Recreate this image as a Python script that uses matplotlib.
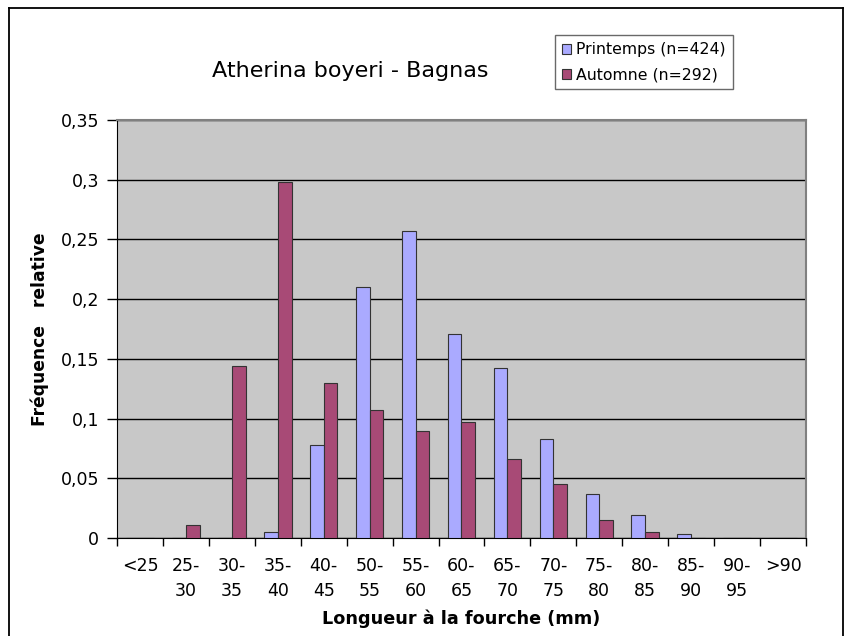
import numpy as np
import matplotlib
matplotlib.use('Agg')
import matplotlib.pyplot as plt
from matplotlib.lines import Line2D

classes = ['<25', '25-\n30', '30-\n35', '35-\n40', '40-\n45', '50-\n55', '55-\n60',
           '60-\n65', '65-\n70', '70-\n75', '75-\n80', '80-\n85', '85-\n90', '90-\n95', '>90']
printemps = [0, 0, 0, 0.005, 0.078, 0.210, 0.257, 0.171, 0.142, 0.083, 0.037, 0.019, 0.003, 0, 0]
automne = [0, 0.011, 0.144, 0.298, 0.130, 0.107, 0.090, 0.097, 0.066, 0.045, 0.015, 0.005, 0, 0, 0]
yticks = [0, 0.05, 0.1, 0.15, 0.2, 0.25, 0.3, 0.35]
ylabels = ['0', '0,05', '0,1', '0,15', '0,2', '0,25', '0,3', '0,35']

plt.rcParams['font.family'] = 'DejaVu Sans'

fig = plt.figure(figsize=(8.46, 6.36), dpi=100)
ax = fig.add_axes([0.1383, 0.1541, 0.8144, 0.6572])
ax.set_facecolor('#c8c8c8')

x = np.arange(len(classes))
w = 0.3
ax.bar(x - w/2, printemps, w, color='#aaaaff', edgecolor='#333333', linewidth=0.8,
       label='Printemps (n=424)', zorder=3)
ax.bar(x + w/2, automne, w, color='#a84a76', edgecolor='#333333', linewidth=0.8,
       label='Automne (n=292)', zorder=3)

ax.set_xlim(-0.5, len(classes) - 0.5)
ax.set_ylim(0, 0.35)
ax.set_yticks(yticks)
ax.set_yticklabels(ylabels, fontsize=12.5)
ax.set_xticks(x)
ax.set_xticklabels(classes, fontsize=12.5, linespacing=1.45)
ax.set_xticks(np.arange(len(classes) + 1) - 0.5, minor=True)
ax.tick_params(axis='x', which='major', length=0, pad=14)
ax.tick_params(axis='x', which='minor', length=6, width=1, color='black', direction='out')
ax.tick_params(axis='y', length=7, width=1, direction='out', pad=6)

ax.yaxis.grid(True, color='black', linewidth=1, zorder=1)
ax.set_axisbelow(True)

ax.spines['left'].set_color('black')
ax.spines['bottom'].set_color('black')
ax.spines['top'].set_color('#808080')
ax.spines['right'].set_color('#808080')
ax.spines['top'].set_linewidth(1.5)
ax.spines['right'].set_linewidth(1.5)

ax.set_xlabel('Longueur à la fourche (mm)', fontsize=12.7, fontweight='bold', labelpad=7)
ax.set_ylabel('Fréquence   relative', fontsize=12.3, fontweight='bold', labelpad=8)

fig.text(0.414, 0.889, 'Atherina boyeri - Bagnas', fontsize=16, ha='center', va='center')

leg = ax.legend(loc='upper left', bbox_to_anchor=(555/846, 1 - 35/636), bbox_transform=fig.transFigure,
                fontsize=11.3, frameon=True, fancybox=False, borderpad=0.45, handlelength=0.6,
                handleheight=0.6, handletextpad=0.3, labelspacing=0.65, borderaxespad=0)
leg.get_frame().set_edgecolor('#444444')
leg.get_frame().set_linewidth(1)

# outer border of the chart
fig.add_artist(Line2D([9/846, 9/846], [0, 1 - 8/636], color='black', linewidth=1.3,
                      transform=fig.transFigure))
fig.add_artist(Line2D([9/846, 843/846], [1 - 8/636, 1 - 8/636], color='black', linewidth=1.3,
                      transform=fig.transFigure))
fig.add_artist(Line2D([843/846, 843/846], [0, 1 - 8/636], color='black', linewidth=1.3,
                      transform=fig.transFigure))

fig.savefig('out.png', dpi=100)
